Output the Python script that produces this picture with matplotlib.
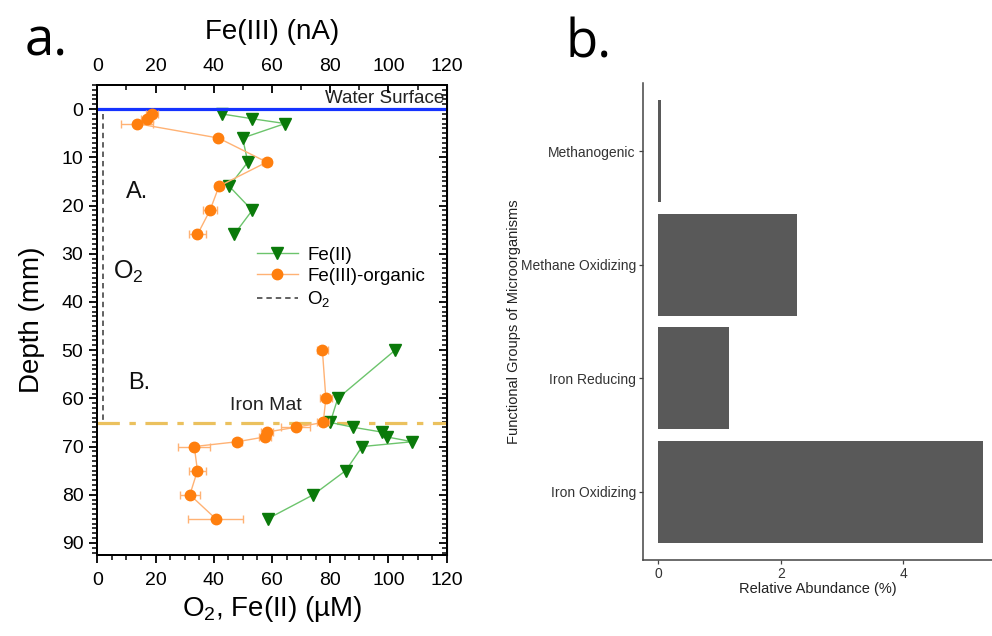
import matplotlib
matplotlib.use('Agg')
import matplotlib.pyplot as plt
from matplotlib.ticker import MultipleLocator
from matplotlib.lines import Line2D

plt.rcParams['font.family'] = ['Liberation Sans', 'DejaVu Sans']
plt.rcParams['mathtext.fontset'] = 'custom'
plt.rcParams['mathtext.rm'] = 'Liberation Sans'
plt.rcParams['mathtext.it'] = 'Liberation Sans:italic'

# ---------------- data: panel a ----------------
depth_A = [1, 2, 3, 6, 11, 16, 21, 26]
fe2_A = [42.7, 53.2, 64.5, 49.9, 51.7, 45.3, 53.2, 47.0]
fe3_A = [18.7, 17.0, 13.5, 41.6, 58.2, 41.8, 38.7, 34.4]
fe3_err_A = [2, 2, 5.5, 1, 1.5, 1.5, 2.5, 3]

depth_B = [50, 60, 65, 66, 67, 68, 69, 70, 75, 80, 85]
fe2_B = [102.3, 82.6, 80.0, 87.9, 97.7, 99.4, 108.2, 91.0, 85.3, 74.2, 58.5]
fe3_B = [77.3, 78.5, 77.6, 68.2, 58.2, 57.6, 48.1, 33.3, 34.4, 31.8, 40.7]
fe3_err_B = [2, 2, 2, 5, 2, 2, 1.5, 5.5, 3, 3.5, 9.5]

o2_depth = [1, 64.5]
o2_vals = [2, 2]

water_surface_depth = 0
iron_mat_depth = 65.2

# ---------------- data: panel b ----------------
groups = ['Iron Oxidizing', 'Iron Reducing', 'Methane Oxidizing', 'Methanogenic']
abundance = [5.31, 1.15, 2.26, 0.04]

W, H = 992, 636
fig = plt.figure(figsize=(W / 100, H / 100), dpi=100)

# ---------------- panel a ----------------
ax = fig.add_axes([97.3 / W, 1 - 555 / H, (446.7 - 97.3) / W, (555 - 85) / H])
ax.set_xlim(0, 120)
ax.set_ylim(92.5, -5)

green_m = '#0a7a0a'
green_l = '#6cc46c'
orange_m = '#ff7f0e'
orange_l = '#ffb274'

for d, v in ((depth_A, fe2_A), (depth_B, fe2_B)):
    ax.plot(v, d, '-', color=green_l, lw=1.0, zorder=3)
    ax.plot(v, d, 'v', color=green_m, ms=8.5, mec=green_m, zorder=4, lw=0)

ax.plot(o2_vals, o2_depth, color='#555555', lw=1.3, ls=(0, (3, 2.2)), zorder=3)

ax.axhline(water_surface_depth, color='#1533ff', lw=2.3, zorder=5)
ax.axhline(iron_mat_depth, color='#ebc15e', lw=2.3, ls=(0, (7, 3, 2, 3)), zorder=2)

ax.text(119.3, -0.4, 'Water Surface', ha='right', va='bottom', fontsize=13.5, color='#222222')
ax.text(58, 61.5, 'Iron Mat', ha='center', va='center', fontsize=14, color='#222222')
ax.text(13.8, 17.3, 'A.', ha='center', va='center', fontsize=17, color='#111111')
ax.text(14.3, 56.8, 'B.', ha='center', va='center', fontsize=17, color='#111111')
ax.text(5.4, 33.8, 'O$_2$', ha='left', va='center', fontsize=18, color='#111111')

ax.set_xticks(range(0, 121, 20))
ax.xaxis.set_minor_locator(MultipleLocator(5))
ax.set_yticks(range(0, 91, 10))
ax.yaxis.set_minor_locator(MultipleLocator(1))
ax.tick_params(axis='both', which='major', direction='out', length=6, width=1.3,
               labelsize=14, pad=4, top=False, right=False)
ax.tick_params(axis='both', which='minor', direction='out', length=3.5, width=1.1,
               top=False, right=False)
ax.tick_params(axis='x', which='major', pad=6)
for s in ax.spines.values():
    s.set_linewidth(1.4)
ax.set_xlabel('O$_2$, Fe(II) (µM)', fontsize=20, labelpad=4)
ax.set_ylabel('Depth (mm)', fontsize=20, labelpad=12)

secy = ax.secondary_yaxis('right')
secy.set_yticks(range(0, 91, 10))
secy.yaxis.set_minor_locator(MultipleLocator(1))
secy.tick_params(axis='y', which='major', direction='in', length=6, width=1.3, labelright=False)
secy.tick_params(axis='y', which='minor', direction='in', length=3.5, width=1.1)
secy.set_yticklabels([])

axt = ax.twiny()
axt.set_xlim(0, 120)
for d, v, e in ((depth_A, fe3_A, fe3_err_A), (depth_B, fe3_B, fe3_err_B)):
    axt.errorbar(v, d, xerr=e, fmt='-', color=orange_l, ecolor=orange_l, lw=1.0,
                 elinewidth=1.0, capsize=3.2, capthick=1.0, zorder=3)
    axt.plot(v, d, 'o', color=orange_m, ms=7.5, zorder=4)
axt.set_xticks(range(0, 121, 20))
axt.xaxis.set_minor_locator(MultipleLocator(10))
axt.tick_params(axis='x', which='major', direction='in', length=6, width=1.3, labelsize=14, pad=7)
axt.tick_params(axis='x', which='minor', direction='in', length=3.5, width=1.1)
axt.set_xlabel('Fe(III) (nA)', fontsize=20, labelpad=14)
for s in axt.spines.values():
    s.set_linewidth(1.4)

handles = [
    Line2D([], [], color=green_l, lw=1.0, marker='v', mfc=green_m, mec=green_m, ms=8.5),
    Line2D([], [], color=orange_l, lw=1.0, marker='o', mfc=orange_m, mec=orange_m, ms=7.5),
    Line2D([], [], color='#555555', lw=1.3, ls=(0, (3, 2.2))),
]
axt.legend(handles, ['Fe(II)', 'Fe(III)-organic', 'O$_2$'], loc='upper left',
           bbox_to_anchor=(0.435, 0.672), frameon=False, fontsize=13.5,
           handlelength=2.2, labelspacing=0.22, handletextpad=0.5, borderaxespad=0)

fig.text(25 / W, 1 - 56 / H, 'a.', fontsize=38, family='Open Sans', va='baseline', ha='left')
fig.text(566 / W, 1 - 57 / H, 'b.', fontsize=38, family='Open Sans', va='baseline', ha='left')

# ---------------- panel b ----------------
bx = fig.add_axes([642.7 / W, 1 - 560 / H, (W - 642.7) / W, (560 - 83) / H])
pos = list(range(1, len(groups) + 1))
bx.barh(pos, abundance, height=0.9, color='#595959', zorder=2)
bx.set_xlim(-0.255, 5.45)
bx.set_ylim(0.4, 4.6)
bx.set_yticks(pos)
bx.set_yticklabels(groups)
bx.set_xticks([0, 2, 4])
for side in ('top', 'right'):
    bx.spines[side].set_visible(False)
for side in ('left', 'bottom'):
    bx.spines[side].set_color('#444444')
    bx.spines[side].set_linewidth(1.1)
bx.tick_params(axis='both', length=3, width=0.9, color='#444444', labelsize=10,
               labelcolor='#333333', pad=2)
bx.set_xlabel('Relative Abundance (%)', fontsize=10.5, color='#222222', labelpad=1)
bx.set_ylabel('Functional Groups of Microorganisms', fontsize=10.5, color='#222222', labelpad=0)

fig.savefig('out.png', dpi=100)
